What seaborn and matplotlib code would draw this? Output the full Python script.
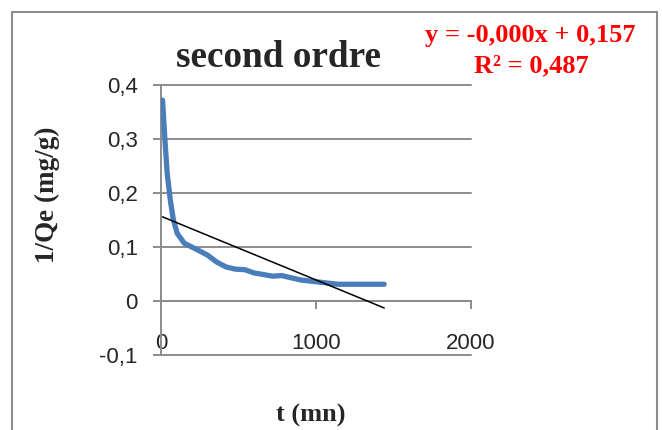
import matplotlib
matplotlib.use("Agg")
import matplotlib.pyplot as plt
from matplotlib.patches import Rectangle
import numpy as np
import pandas as pd
import seaborn as sns

# Kinetic data: contact time (min) and 1/Qe
t_mn = [10, 25, 40, 60, 80, 105, 150, 240, 300, 360, 420, 480, 540,
        600, 660, 720, 780, 900, 1020, 1140, 1260, 1440]
inv_qe = [0.372, 0.300, 0.236, 0.187, 0.150, 0.125, 0.107, 0.094, 0.085,
          0.072, 0.063, 0.059, 0.058, 0.052, 0.049, 0.046, 0.047, 0.039,
          0.035, 0.031, 0.031, 0.031]

# Linear trend line and its fit statistics
trend_slope = -0.000118
trend_intercept = 0.157
trend_r2 = 0.487

x_ticks = [0, 1000, 2000]
y_ticks = [-0.1, 0.0, 0.1, 0.2, 0.3, 0.4]

sns.set_theme(style="white")
plt.rcParams["font.family"] = ["Liberation Sans", "DejaVu Sans"]

W, H = 662, 430
fig = plt.figure(figsize=(W / 100, H / 100), dpi=100)
fig.patch.set_facecolor("white")

# chart frame
fig.patches.append(Rectangle((12 / W, -0.05), (657 - 12) / W, (H - 12) / H + 0.05,
                             transform=fig.transFigure, fill=False,
                             edgecolor="#8c8c8c", linewidth=1.5))

left, right, top, bottom = 161, 471, 85, 355
ax = fig.add_axes([left / W, 1 - bottom / H, (right - left) / W, (bottom - top) / H])
ax.set_facecolor("none")

df = pd.DataFrame({"t": t_mn, "q": inv_qe})
sns.lineplot(data=df, x="t", y="q", ax=ax, color="#4A7EBB", linewidth=3.8,
             solid_capstyle="round", solid_joinstyle="round", zorder=3)

tx = np.array([t_mn[0], t_mn[-1]])
trend = pd.DataFrame({"t": tx, "q": trend_intercept + trend_slope * tx})
sns.lineplot(data=trend, x="t", y="q", ax=ax, color="black", linewidth=1.1, zorder=4)

ax.set_xlim(0, 2000)
ax.set_ylim(-0.1, 0.4)

grid_col = "#8c8c8c"
for yv in y_ticks:
    ax.axhline(yv, color=grid_col, linewidth=1.4, zorder=1, clip_on=False)

for s in ["top", "right"]:
    ax.spines[s].set_visible(False)
ax.spines["left"].set_color(grid_col)
ax.spines["left"].set_linewidth(1.4)
ax.spines["bottom"].set_position(("data", 0))
ax.spines["bottom"].set_color(grid_col)
ax.spines["bottom"].set_linewidth(1.4)

ax.set_xticks(x_ticks)
ax.set_xticklabels([str(v) for v in x_ticks])
ax.set_yticks(y_ticks)
ax.set_yticklabels([f"{v:.1f}".replace(".", ",") if v != 0 else "0" for v in y_ticks])
ax.tick_params(axis="x", direction="out", length=5.8, width=1.4, color=grid_col,
               labelsize=16, pad=17, bottom=True)
ax.tick_params(axis="y", direction="out", length=5.8, width=1.4, color=grid_col,
               labelsize=16, pad=11, left=True)

serif = ["Liberation Serif", "DejaVu Serif"]
ax.set_xlabel("t (mn)", fontfamily=serif, fontweight="bold", fontsize=19, va="center")
ax.xaxis.set_label_coords((311 - left) / (right - left), (bottom - 415) / (bottom - top))
ax.set_ylabel("1/Qe (mg/g)", fontfamily=serif, fontweight="bold", fontsize=19.5, va="center")
ax.yaxis.set_label_coords((47 - left) / (right - left), (bottom - 195) / (bottom - top))

ax.set_title("second ordre", fontfamily=serif, fontweight="bold", fontsize=26.8,
             x=(279 - left) / (right - left), y=(bottom - 67) / (bottom - top),
             pad=0, va="baseline", ha="center")

eq = f"y = {trend_slope:.3f}x + {trend_intercept:.3f}".replace(".", ",")
r2 = f"R² = {trend_r2:.3f}".replace(".", ",")
fig.text(530 / W, 1 - 42 / H, eq, color="red", fontfamily=serif, fontweight="bold",
         fontsize=19, ha="center", va="baseline")
fig.text(531 / W, 1 - 72 / H, r2, color="red", fontfamily=serif, fontweight="bold",
         fontsize=19, ha="center", va="baseline")

fig.savefig("out.png", dpi=100)
